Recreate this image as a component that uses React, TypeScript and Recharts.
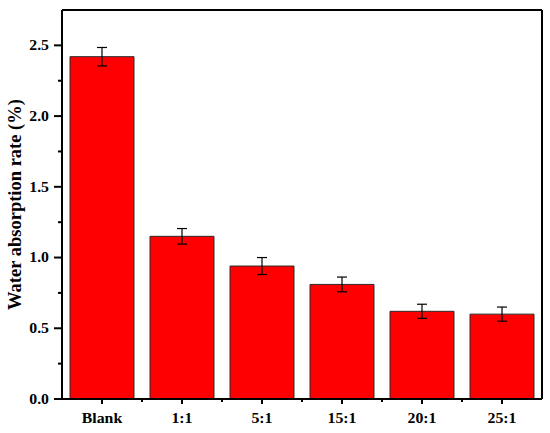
import { BarChart, Bar, XAxis, YAxis, ErrorBar } from 'recharts';

const groups = ['Blank', '1:1', '5:1', '15:1', '20:1', '25:1'];
const rates = [2.42, 1.15, 0.94, 0.81, 0.62, 0.6];
const errors = [0.065, 0.055, 0.06, 0.052, 0.05, 0.05];
const yTicks = [0, 0.25, 0.5, 0.75, 1, 1.25, 1.5, 1.75, 2, 2.25, 2.5];

const data = groups.map((g, i) => ({ group: g, rate: rates[i], err: errors[i] }));

const FONT = '"Liberation Serif", "Times New Roman", serif';
const HALF_BAND = 40;
const STRETCH = 1.13;

// the original figure is a bit stretched sideways
const wide = (x: number) => `translate(${x},0) scale(${STRETCH},1) translate(${-x},0)`;

const YTick = ({ x, y, payload }: any) => {
  const major = Math.abs(payload.value * 2 - Math.round(payload.value * 2)) < 1e-6;
  const tx = x - 13;
  return (
    <g>
      <line x1={x - (major ? 8 : 4)} x2={x} y1={y} y2={y} stroke="#000" strokeWidth={2} />
      {major && (
        <text x={tx} y={y} dy="0.35em" textAnchor="end" transform={wide(tx)} fontFamily={FONT} fontWeight="bold" fontSize={14} fill="#000">
          {payload.value.toFixed(1)}
        </text>
      )}
    </g>
  );
};

const XTick = ({ x, y, payload, index }: any) => (
  <g>
    <line x1={x} x2={x} y1={y} y2={y + 5} stroke="#000" strokeWidth={2} />
    {index > 0 && <line x1={x - HALF_BAND} x2={x - HALF_BAND} y1={y} y2={y + 3} stroke="#000" strokeWidth={2} />}
    <text x={x} y={y + 24} textAnchor="middle" transform={wide(x)} fontFamily={FONT} fontWeight="bold" fontSize={14} fill="#000">
      {payload.value}
    </text>
  </g>
);

const YLabel = ({ viewBox }: any) => {
  const cx = 15;
  const cy = viewBox.y + viewBox.height / 2;
  return (
    <text x={cx} y={cy} transform={`rotate(-90, ${cx}, ${cy})`} textAnchor="middle" dominantBaseline="central"
      fontFamily={FONT} fontWeight="bold" fontSize={18.5} fill="#000">
      Water absorption rate (%)
    </text>
  );
};

export default function App() {
  const axisStyle = { stroke: '#000', strokeWidth: 2 };
  return (
    <div style={{ position: 'absolute', left: 0, top: 0, width: 550, height: 433, background: '#fff' }}>
      <BarChart width={550} height={433} data={data} margin={{ top: 9, right: 7, left: 0, bottom: 0 }} barCategoryGap="10%">
        <XAxis dataKey="group" height={34} tickLine={false} tickSize={0} tickMargin={0} axisLine={axisStyle} tick={<XTick />} interval={0} />
        <XAxis xAxisId="top" dataKey="group" orientation="top" height={1} tick={false} tickLine={false} axisLine={axisStyle} />
        <YAxis width={62} domain={[0, 2.75]} ticks={yTicks} interval={0} tickLine={false} tickSize={0} tickMargin={0}
          axisLine={axisStyle} tick={<YTick />} label={<YLabel />} allowDataOverflow />
        <YAxis yAxisId="right" orientation="right" width={1} domain={[0, 2.75]} tick={false} tickLine={false} axisLine={axisStyle} />
        <Bar dataKey="rate" fill="#ff0000" stroke="#2a2a2a" strokeWidth={1} isAnimationActive={false}>
          <ErrorBar dataKey="err" width={5} stroke="#000" strokeWidth={1.2} />
        </Bar>
      </BarChart>
    </div>
  );
}
